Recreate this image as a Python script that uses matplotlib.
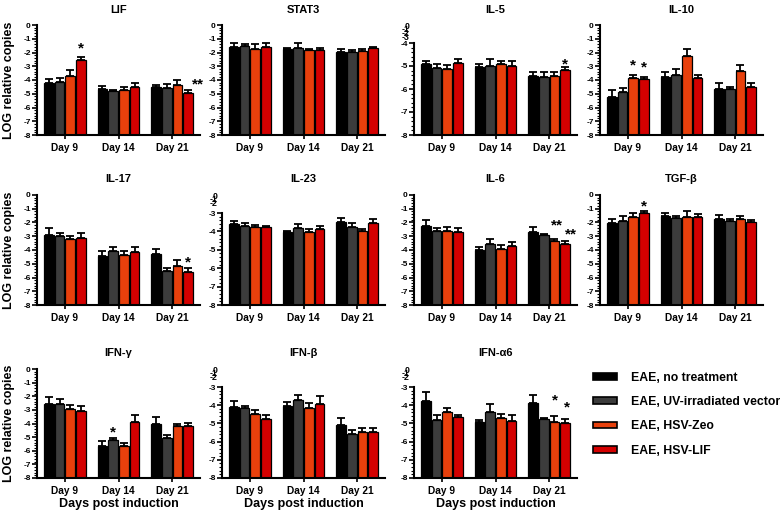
import matplotlib
matplotlib.use("Agg")
import matplotlib.pyplot as plt
from matplotlib.ticker import MultipleLocator
from matplotlib.patches import Patch
from matplotlib.transforms import offset_copy
import numpy as np

plt.rcParams['font.family'] = ['Liberation Sans', 'DejaVu Sans']
plt.rcParams['font.weight'] = 'bold'
plt.rcParams['axes.unicode_minus'] = False

days = ["Day 9", "Day 14", "Day 21"]
groups = ["EAE, no treatment", "EAE, UV-irradiated vector", "EAE, HSV-Zeo", "EAE, HSV-LIF"]
colors = ["#000000", "#3c3c3c", "#e8400c", "#d40000"]

# values: one row per day, one column per group (LOG relative copies), err = SEM (upper only)
lif_mean = [[-4.19, -4.12, -3.70, -2.55], [-4.65, -4.80, -4.73, -4.48], [-4.48, -4.56, -4.36, -4.92]]
lif_err = [[0.25, 0.27, 0.44, 0.24], [0.20, 0.07, 0.20, 0.24], [0.12, 0.27, 0.36, 0.20]]

stat3_mean = [[-1.62, -1.53, -1.75, -1.58], [-1.77, -1.65, -1.82, -1.82], [-1.94, -1.99, -1.89, -1.70]]
stat3_err = [[0.34, 0.12, 0.34, 0.24], [0.07, 0.32, 0.10, 0.12], [0.19, 0.15, 0.17, 0.07]]

il5_mean = [[-4.92, -5.09, -5.13, -4.87], [-5.05, -4.99, -4.92, -4.99], [-5.43, -5.48, -5.43, -5.18]]
il5_err = [[0.12, 0.17, 0.16, 0.19], [0.12, 0.30, 0.15, 0.19], [0.16, 0.22, 0.15, 0.12]]

il10_mean = [[-5.21, -4.85, -3.88, -3.95], [-3.81, -3.61, -2.25, -3.88], [-4.65, -4.68, -3.35, -4.48]]
il10_err = [[0.48, 0.24, 0.24, 0.19], [0.41, 0.39, 0.53, 0.24], [0.41, 0.19, 0.44, 0.29]]

il17_mean = [[-2.91, -2.98, -3.20, -3.15], [-4.41, -4.07, -4.36, -4.17], [-4.32, -5.53, -5.14, -5.58]]
il17_err = [[0.48, 0.19, 0.24, 0.39], [0.34, 0.32, 0.29, 0.41], [0.39, 0.24, 0.39, 0.24]]

il23_mean = [[-3.60, -3.73, -3.76, -3.75], [-4.04, -3.82, -4.04, -3.87], [-3.49, -3.75, -3.96, -3.56]]
il23_err = [[0.15, 0.18, 0.10, 0.05], [0.04, 0.24, 0.18, 0.18], [0.20, 0.20, 0.11, 0.25]]

il6_mean = [[-2.25, -2.59, -2.62, -2.72], [-4.00, -3.59, -3.93, -3.68], [-2.72, -2.91, -3.35, -3.56]]
il6_err = [[0.44, 0.17, 0.27, 0.29], [0.19, 0.36, 0.32, 0.29], [0.36, 0.10, 0.12, 0.22]]

tgfb_mean = [[-2.01, -1.87, -1.58, -1.33], [-1.50, -1.70, -1.58, -1.62], [-1.75, -1.87, -1.75, -1.94]]
tgfb_err = [[0.24, 0.34, 0.29, 0.17], [0.22, 0.15, 0.41, 0.22], [0.29, 0.10, 0.22, 0.15]]

ifng_mean = [[-2.55, -2.55, -2.96, -3.08], [-5.62, -5.21, -5.65, -3.88], [-4.00, -5.09, -4.19, -4.19]]
ifng_err = [[0.48, 0.36, 0.32, 0.34], [0.32, 0.12, 0.24, 0.48], [0.48, 0.24, 0.15, 0.24]]

ifnb_mean = [[-4.09, -4.18, -4.51, -4.76], [-4.04, -3.69, -4.15, -3.95], [-5.07, -5.60, -5.47, -5.47]]
ifnb_err = [[0.33, 0.13, 0.24, 0.22], [0.22, 0.24, 0.29, 0.44], [0.35, 0.22, 0.24, 0.24]]

ifna6_mean = [[-3.78, -4.80, -4.38, -4.67], [-4.95, -4.36, -4.69, -4.85], [-3.87, -4.76, -4.91, -5.00]]
ifna6_err = [[0.51, 0.25, 0.20, 0.15], [0.16, 0.40, 0.18, 0.29], [0.42, 0.07, 0.33, 0.25]]

panel_titles = ["LIF", "STAT3", "IL-5", "IL-10", "IL-17", "IL-23", "IL-6", "TGF-β",
                "IFN-γ", "IFN-β", "IFN-α6"]
panel_means = [lif_mean, stat3_mean, il5_mean, il10_mean, il17_mean, il23_mean, il6_mean,
               tgfb_mean, ifng_mean, ifnb_mean, ifna6_mean]
panel_errs = [lif_err, stat3_err, il5_err, il10_err, il17_err, il23_err, il6_err,
              tgfb_err, ifng_err, ifnb_err, ifna6_err]
panel_ytop = [0, 0, -4, 0, 0, -3, 0, 0, 0, -3, -3]
y_bottom = -8

# significance marks: (panel, day index, group index, label)
stars = [("LIF", 0, 3, "*"), ("LIF", 2, 3, "**"), ("IL-5", 2, 3, "*"),
         ("IL-10", 0, 2, "*"), ("IL-10", 0, 3, "*"), ("IL-17", 2, 3, "*"),
         ("IL-6", 2, 2, "**"), ("IL-6", 2, 3, "**"), ("TGF-β", 0, 3, "*"),
         ("IFN-γ", 1, 1, "*"), ("IFN-α6", 2, 2, "*"), ("IFN-α6", 2, 3, "*")]
# star placement offsets (px right, px above error bar top)
star_offsets = [(0, 13), (10, 10), (0, 7), (0, 14), (0, 14), (0, 10),
                (2, 18), (6, 11), (0, 9), (0, 10), (0, 20), (2, 16)]

W, H = 784, 515
fig = plt.figure(figsize=(W / 100, H / 100), dpi=100)

col_left = [37, 222, 414, 600]
ax_w = 163
row_top = [25, 195, 369]
row_bot = [135, 305, 478]
title_y = [10, 179, 353]
compress_px = 18

n_grp = len(groups)
pitch = 0.2
bar_w = 0.18
x_centers = np.arange(len(days))

axes_by_title = {}
for i, title in enumerate(panel_titles):
    r, c = divmod(i, 4)
    top_px = row_top[r] + (compress_px if panel_ytop[i] != 0 else 0)
    ax = fig.add_axes([col_left[c] / W, 1 - row_bot[r] / H, ax_w / W, (row_bot[r] - top_px) / H])
    axes_by_title[title] = ax
    mean = np.array(panel_means[i])
    err = np.array(panel_errs[i])
    for g in range(n_grp):
        xs = x_centers + (g - (n_grp - 1) / 2) * pitch
        vals = mean[:, g]
        ax.bar(xs, vals - y_bottom, bottom=y_bottom, width=bar_w, color=colors[g],
               edgecolor="black", linewidth=0.9, zorder=2)
        ax.errorbar(xs, vals, yerr=[np.zeros_like(vals), err[:, g]], fmt="none",
                    ecolor="black", elinewidth=1.3, capsize=2.6, capthick=1.3, zorder=3)
    ax.set_xlim(-0.52, 2.52)
    ax.set_ylim(y_bottom, panel_ytop[i])
    for s in ["top", "right"]:
        ax.spines[s].set_visible(False)
    for s in ["left", "bottom"]:
        ax.spines[s].set_linewidth(1.5)
    ax.yaxis.set_major_locator(MultipleLocator(1))
    ax.yaxis.set_minor_locator(MultipleLocator(0.2))
    ax.tick_params(axis="y", which="major", labelsize=6, length=3.5, width=1.2, pad=1)
    ax.tick_params(axis="y", which="minor", length=2, width=0.8)
    ax.set_xticks(x_centers)
    ax.set_xticklabels(days, fontsize=7.3, fontweight="bold")
    ax.tick_params(axis="x", length=3, width=1.2, pad=3)
    for lab in ax.get_yticklabels():
        lab.set_fontweight("bold")
    # compressed (broken) upper part of the axis labels
    if panel_ytop[i] != 0:
        n_extra = -panel_ytop[i]
        for k in range(n_extra):
            off_px = 1.5 + k * 3.5
            tr = offset_copy(ax.transAxes, fig=fig, x=0, y=(compress_px - off_px) * 0.72, units="points")
            ax.text(-0.025, 1.0, str(-k), transform=tr, ha="right", va="center",
                    fontsize=6.3, fontweight="bold", clip_on=False)
    cx = (col_left[c] + ax_w / 2) / W
    fig.text(cx, 1 - title_y[r] / H, title, ha="center", va="center", fontsize=8, fontweight="bold")
    if c == 0:
        ax.set_ylabel("LOG relative copies", fontsize=9, fontweight="bold", labelpad=6)
    if r == 2:
        ax.set_xlabel("Days post induction", fontsize=9, fontweight="bold", labelpad=1.5)

for (ptitle, d, g, lab), (dx, dy) in zip(stars, star_offsets):
    i = panel_titles.index(ptitle)
    ax = axes_by_title[ptitle]
    x = x_centers[d] + (g - (n_grp - 1) / 2) * pitch
    y = panel_means[i][d][g] + panel_errs[i][d][g]
    tr = offset_copy(ax.transData, fig=fig, x=dx * 0.72, y=dy * 0.72 - 6.0, units="points")
    ax.text(x, y, lab, transform=tr, ha="center", va="baseline", fontsize=11,
            fontweight="bold", clip_on=False)

handles = [Patch(facecolor=col, edgecolor="black", linewidth=1.2) for col in colors]
fig.legend(handles, groups, loc="upper left", bbox_to_anchor=(588 / W, 1 - 367 / H),
           frameon=False, prop={"size": 8.8, "weight": "bold"}, handlelength=2.0,
           handleheight=0.5, labelspacing=1.0, handletextpad=1.1, borderaxespad=0)

fig.savefig("out.png", dpi=100)
